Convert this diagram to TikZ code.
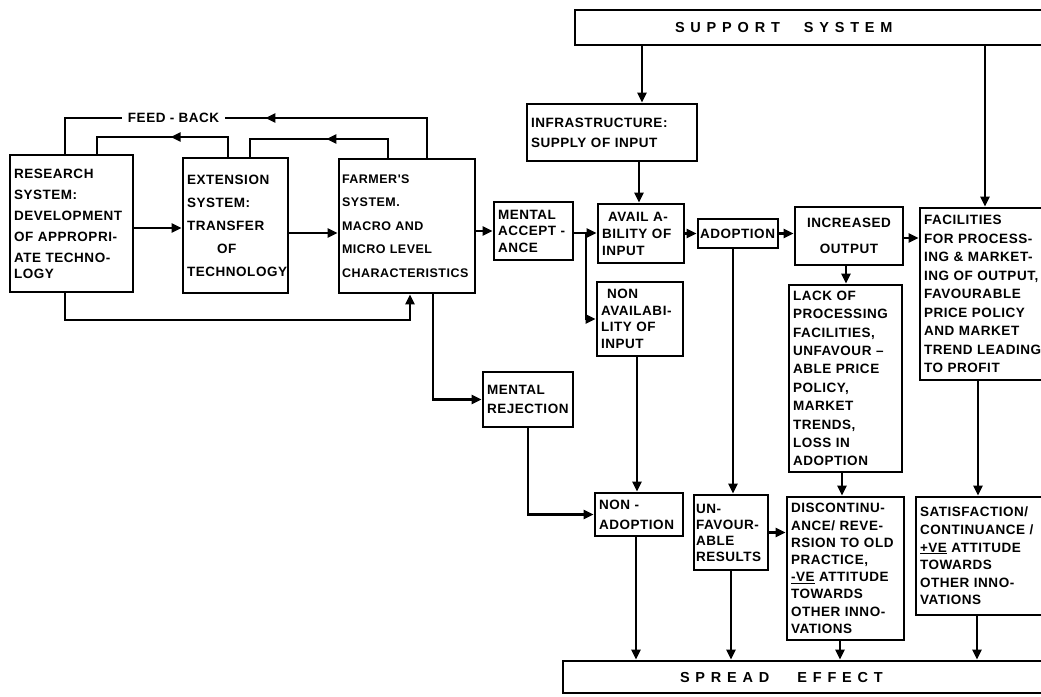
\documentclass[tikz,border=0pt]{standalone}
\usepackage{fontspec}
\newfontfamily\lett[LetterSpace=4]{Liberation Sans}
\newfontfamily\wide[LetterSpace=40]{Liberation Sans}
\usetikzlibrary{positioning, arrows.meta, decorations.markings}

\begin{document}
\begin{tikzpicture}[x=1pt, y=-1pt, line width=2.9pt, >={Triangle[length=10pt, width=9pt]},
    ls/.style={font=\lett\bfseries\fontsize{13.5}{#1}\selectfont},
    blk/.style={draw, align=left, inner xsep=4pt, inner ysep=3pt, ls=17},
    bar/.style={draw, align=left, inner xsep=5pt, font=\wide\bfseries\fontsize{14.5}{16}\selectfont},
    midarr/.style={decoration={markings, mark=at position #1 with {\arrow{>}}}, postaction={decorate}}]
        \useasboundingbox (0,0) rectangle (1041,696);
        \clip (0,0) rectangle (1041,696);
        \fill[white] (0,0) rectangle (1041,696);

        % left part
        \node[blk, text width=115pt, minimum height=137pt, ls=21] (res) at (71.5,223.5)
          {RESEARCH\\ SYSTEM:\\ DEVELOPMENT\\ OF APPROPRI-\\ ATE TECHNO-\\[-5pt] LOGY};
        \node[blk, text width=97pt, minimum height=135pt, ls=23] (ext) at (235.5,225.5)
          {EXTENSION\\ SYSTEM:\\ TRANSFER\\ \hspace*{30pt}OF\\ TECHNOLOGY};
        \node[blk, text width=130pt, inner xsep=3pt, minimum height=134pt,
              font=\lett\bfseries\fontsize{12.5}{23.5}\selectfont] (farm) at (407,226)
          {FARMER'S\\ SYSTEM.\\ MACRO AND\\ MICRO LEVEL\\ CHARACTERISTICS};

        % support system and input
        \node[bar, text width=515pt, minimum height=35pt] (sup) at (837.5,27.5)
          {\hspace*{95pt}SUPPORT\hspace{24pt}SYSTEM};
        \node[blk, text width=162pt, minimum height=57pt, ls=20] (infra) at (612,132.5)
          {INFRASTRUCTURE:\\ SUPPLY OF INPUT};
        \node[blk, text width=71pt, minimum height=58pt, ls=16.5] (macc) at (533.5,231)
          {MENTAL\\ ACCEPT -\\ ANCE};
        \node[blk, text width=78pt, minimum height=59pt] (avail) at (641,233.5)
          {\hspace*{6pt}AVAIL A-\\ BILITY OF\\ INPUT};
        \node[blk, text width=76pt, inner xsep=2pt, minimum height=29pt] (adopt) at (738,233.5)
          {ADOPTION};
        \node[blk, text width=100pt, minimum height=58pt, align=center, ls=26] (incr) at (849,236)
          {INCREASED\\ OUTPUT};
        \node[blk, text width=172pt, minimum height=172pt, ls=18.5] (fac) at (1010,294)
          {FACILITIES\\ FOR PROCESS-\\ ING \& MARKET-\\ ING OF OUTPUT,\\ FAVOURABLE\\
           PRICE POLICY\\ AND MARKET\\ TREND LEADING\\ TO PROFIT};
        \node[blk, text width=78pt, minimum height=74pt, ls=16.5] (navail) at (640,319)
          {\hspace*{6pt}NON\\ AVAILABI-\\ LITY OF\\ INPUT};
        \node[blk, text width=105pt, minimum height=187pt, ls=18.4] (lack) at (845.5,378.5)
          {LACK OF\\ PROCESSING\\ FACILITIES,\\ UNFAVOUR –\\ ABLE PRICE\\ POLICY,\\
           MARKET\\ TRENDS,\\ LOSS IN\\ ADOPTION};
        \node[blk, text width=82pt, minimum height=55pt, ls=19] (mrej) at (528,399.5)
          {MENTAL\\ REJECTION};

        % results
        \node[blk, text width=80pt, minimum height=43pt, ls=20] (nadopt) at (639,514.5)
          {NON -\\ ADOPTION};
        \node[blk, text width=70pt, inner xsep=2pt, minimum height=75pt, ls=16] (unfav) at (731,532.5)
          {UN-\\ FAVOUR-\\ ABLE\\ RESULTS};
        \node[blk, text width=109pt, minimum height=143pt, ls=17.2] (disc) at (845.5,568.5)
          {DISCONTINU-\\ ANCE/ REVE-\\ RSION TO OLD\\ PRACTICE,\\ \underline{-VE} ATTITUDE\\
           TOWARDS\\ OTHER INNO-\\ VATIONS};
        \node[blk, text width=176pt, minimum height=118pt, ls=17.6] (satis) at (1008,556)
          {SATISFACTION/\\ CONTINUANCE /\\ \underline{+VE} ATTITUDE\\ TOWARDS\\ OTHER INNO-\\ VATIONS};
        \node[bar, text width=527pt, minimum height=32pt] (spread) at (831.5,677)
          {\hspace*{112pt}SPREAD\hspace{28pt}EFFECT};

        % feed-back loops
        \draw[midarr=0.46] (farm.north -| 427,0) |- (65,118)
          node[pos=0.85, fill=white, inner xsep=6pt, inner ysep=2pt, ls=17] {FEED - BACK} -- (res.north -| 65,0);
        \draw[midarr=0.46] (ext.north -| 228,0) |- (97,137) -- (res.north -| 97,0);
        \draw[midarr=0.46] (farm.north -| 388,0) |- (250,139) -- (ext.north -| 250,0);
        \draw[->] (res.south -| 65,0) |- (410,320) -- (farm.south -| 410,0);

        \draw[->] (res.east |- 0,228) -- (ext.west |- 0,228);
        \draw[->] (ext.east |- 0,233) -- (farm.west |- 0,233);
        \draw[->] (farm.east |- 0,231) -- (macc.west |- 0,231);
        \draw[->] (farm.south -| 433,0) |- (mrej.west);

        \coordinate (br) at (586,233);
        \draw[->] (macc.east |- br) -- (avail.west |- br);
        \draw[->] (br) |- (navail.west);
        \draw[->] (sup.south -| 642,0) -- (infra.north -| 642,0);
        \draw[->] (infra.south -| 639,0) -- (avail.north -| 639,0);
        \draw[->] (avail.east |- adopt) -- (adopt.west);
        \draw[->] (adopt.east) -- (adopt.east -| incr.west);
        \draw[->] (adopt.south -| 733,0) -- (unfav.north -| 733,0);
        \draw[->] (incr.east |- 0,238) -- (fac.west |- 0,238);
        \draw[->] (sup.south -| 985,0) -- (fac.north -| 985,0);
        \draw[->] (incr.south -| 846,0) -- (lack.north -| 846,0);
        \draw[->] (lack.south -| 842,0) -- (disc.north -| 842,0);
        \draw[->] (fac.south -| 978,0) -- (satis.north -| 978,0);
        \draw[->] (navail.south -| 637,0) -- (nadopt.north -| 637,0);
        \draw[->] (mrej.south) |- (nadopt.west);
        \draw[->] (unfav.east) -- (unfav.east -| disc.west);

        % to spread effect
        \draw[->] (nadopt.south -| 636,0) -- (spread.north -| 636,0);
        \draw[->] (unfav.south) -- (unfav.south |- spread.north);
        \draw[->] (disc.south -| 840,0) -- (spread.north -| 840,0);
        \draw[->] (satis.south -| 977,0) -- (spread.north -| 977,0);
      \end{tikzpicture}
\end{document}
